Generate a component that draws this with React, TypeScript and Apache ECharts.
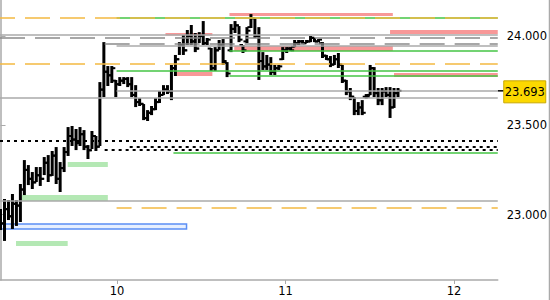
import React, { useEffect, useRef } from 'react';
import * as echarts from 'echarts';

// ---- OHLC bars (price) ----
const highs = [
  23.031, 23.087, 23.081, 23.115, 23.081, 23.171, 23.305, 23.277, 23.238, 23.266,
  23.266, 23.322, 23.333, 23.356, 23.378, 23.294, 23.378, 23.490, 23.496, 23.479,
  23.490, 23.473, 23.389, 23.468, 23.440, 23.742, 23.966, 23.832, 23.832, 23.754,
  23.770, 23.770, 23.770, 23.770, 23.725, 23.653, 23.619, 23.585, 23.608, 23.653,
  23.692, 23.725, 23.725, 23.838, 23.894, 23.966, 24.006, 24.034, 24.062, 24.017,
  24.022, 24.084, 23.989, 23.933, 23.938, 23.978, 23.983, 23.854, 24.067, 24.084,
  24.056, 23.950, 24.050, 24.123, 24.101, 24.050, 23.910, 23.894, 23.882, 23.838,
  23.838, 23.938, 23.938, 23.938, 23.978, 23.978, 23.978, 23.978, 24.000, 23.989,
  23.983, 23.966, 23.894, 23.888, 23.894, 23.905, 23.838, 23.754, 23.709, 23.658,
  23.630, 23.641, 23.675, 23.838, 23.826, 23.709, 23.709, 23.714, 23.714, 23.709,
  23.709,
];
const lows = [
  22.913, 22.852, 22.969, 22.919, 22.936, 22.958, 23.109, 23.165, 23.143, 23.182,
  23.160, 23.221, 23.182, 23.216, 23.171, 23.126, 23.238, 23.328, 23.384, 23.361,
  23.384, 23.361, 23.311, 23.367, 23.356, 23.384, 23.658, 23.720, 23.737, 23.658,
  23.720, 23.731, 23.714, 23.658, 23.602, 23.608, 23.529, 23.524, 23.557, 23.585,
  23.625, 23.669, 23.675, 23.641, 23.776, 23.894, 23.894, 23.950, 23.950, 23.910,
  23.961, 23.950, 23.950, 23.804, 23.804, 23.922, 23.838, 23.770, 23.910, 24.017,
  23.966, 23.905, 23.961, 24.045, 23.989, 23.754, 23.810, 23.810, 23.782, 23.782,
  23.810, 23.866, 23.905, 23.916, 23.938, 23.950, 23.955, 23.961, 23.966, 23.966,
  23.966, 23.877, 23.866, 23.826, 23.838, 23.821, 23.737, 23.669, 23.641, 23.557,
  23.557, 23.557, 23.650, 23.669, 23.658, 23.613, 23.613, 23.658, 23.541, 23.597,
  23.658,
];
const opens = [
  22.990, 22.950, 23.030, 22.990, 23.060, 23.050, 23.140, 23.250, 23.200, 23.180,
  23.220, 23.200, 23.290, 23.220, 23.330, 23.200, 23.260, 23.350, 23.440, 23.420,
  23.400, 23.450, 23.380, 23.360, 23.440, 23.380, 23.700, 23.800, 23.780, 23.750,
  23.730, 23.750, 23.760, 23.730, 23.670, 23.630, 23.620, 23.540, 23.570, 23.590,
  23.630, 23.670, 23.700, 23.690, 23.820, 23.870, 23.950, 23.920, 24.000, 23.970,
  23.930, 24.000, 23.960, 23.930, 23.820, 23.920, 23.950, 23.850, 23.920, 24.040,
  24.060, 23.950, 23.970, 24.050, 24.100, 24.000, 23.860, 23.830, 23.840, 23.800,
  23.820, 23.870, 23.920, 23.930, 23.940, 23.960, 23.970, 23.960, 23.970, 23.990,
  23.970, 23.960, 23.890, 23.870, 23.840, 23.870, 23.840, 23.750, 23.690, 23.660,
  23.580, 23.600, 23.660, 23.670, 23.820, 23.680, 23.640, 23.690, 23.670, 23.600,
  23.680,
];
const closes = [
  22.950, 23.030, 22.990, 23.060, 23.050, 23.140, 23.250, 23.200, 23.180, 23.220,
  23.200, 23.290, 23.220, 23.330, 23.200, 23.260, 23.350, 23.440, 23.420, 23.400,
  23.450, 23.380, 23.360, 23.440, 23.380, 23.700, 23.800, 23.780, 23.820, 23.730,
  23.750, 23.760, 23.730, 23.670, 23.630, 23.620, 23.540, 23.570, 23.590, 23.630,
  23.670, 23.700, 23.690, 23.820, 23.870, 23.950, 23.920, 24.000, 23.970, 23.930,
  24.000, 23.960, 23.980, 23.820, 23.920, 23.950, 23.860, 23.790, 24.040, 24.060,
  23.980, 23.920, 24.030, 24.100, 24.000, 23.860, 23.830, 23.840, 23.800, 23.820,
  23.830, 23.920, 23.930, 23.920, 23.960, 23.970, 23.960, 23.970, 23.990, 23.970,
  23.980, 23.890, 23.870, 23.840, 23.870, 23.840, 23.750, 23.690, 23.660, 23.580,
  23.600, 23.570, 23.660, 23.820, 23.680, 23.640, 23.690, 23.670, 23.600, 23.680,
  23.693,
];

// ---- axes ----
const X_MIN = -0.13;
const X_MAX = 125.1;
const Y_MIN = 22.633;
const Y_MAX = 24.202;
const xTickValues = [29.3, 71.7, 114.1];
const xTickLabels = ['10', '11', '12'];
const yTickValues = [23, 23.5, 24];
const lastPrice = 23.693;

// ---- horizontal levels (null start = left edge of plot) ----
const levelValues = [24.105, 24.105, 24.010, 23.993, 23.955, 23.947, 23.916, 23.843, 23.803, 23.780, 23.693, 23.657, 23.412, 23.381, 23.364, 23.348, 23.076, 23.040];
const levelStarts = [29.2, null, null, null, 26.2, 29.2, 57.6, null, 29.2, 57.6, 29.2, null, null, 32.5, 26.2, 43.5, null, 29.2];
const levelKinds = ['green', 'orange', 'gray', 'grayDash', 'grayDash', 'gray', 'green', 'orange', 'green', 'green', 'gray', 'gray', 'dots', 'dots', 'dots', 'green', 'gray', 'orange'];

// ---- zones ----
const zoneLows = [24.112, 24.011, 24.003, 23.916, 23.776, 23.770, 23.266, 23.076, 22.824, 22.919];
const zoneHighs = [24.129, 24.034, 24.017, 23.944, 23.798, 23.793, 23.294, 23.109, 22.852, 22.947];
const zoneStarts = [57.6, 98.0, 41.5, 58.8, 44.0, 99.0, 16.9, 5.4, 3.9, null];
const zoneEnds = [98.7, null, 53.3, 98.7, 53.3, null, 27.0, 27.0, 16.9, 46.8];
const zoneKinds = ['red', 'red', 'red', 'red', 'red', 'red', 'green', 'green', 'green', 'blue'];

const FONT = 'DejaVu Sans';

export default function App() {
  const ref = useRef<HTMLDivElement>(null);

  useEffect(() => {
    const chart = echarts.init(ref.current as HTMLDivElement, null, { renderer: 'svg' });

    const candleData = highs.map((h, i) => [i, opens[i], closes[i], lows[i], h]);

    const lineStyles: Record<string, any> = {
      green: { color: '#44c444', width: 1.5, type: 'solid' },
      orange: { color: '#f4b942', width: 1.5, type: [25, 10], dashOffset: 10 },
      gray: { color: '#aaaaaa', width: 1.5, type: 'solid' },
      grayDash: { color: '#8a8a8a', width: 1.5, type: [25, 10], dashOffset: 0 },
      dots: { color: '#000000', width: 2, type: [3, 4], dashOffset: 0 },
    };
    const zoneStyles: Record<string, any> = {
      red: { color: '#f89898' },
      green: { color: '#b4e8b4' },
      blue: { color: '#e6efff', borderColor: '#5b8ef5', borderWidth: 1.5 },
    };

    const markLineData = levelValues.map((v, k) => [
      { coord: [levelStarts[k] ?? X_MIN, v], lineStyle: lineStyles[levelKinds[k]] },
      { coord: [X_MAX, v] },
    ]);
    const markAreaData = zoneLows.map((lo, k) => [
      { coord: [zoneStarts[k] ?? X_MIN, zoneHighs[k]], itemStyle: zoneStyles[zoneKinds[k]] },
      { coord: [zoneEnds[k] ?? X_MAX, lo] },
    ]);

    chart.setOption({
      animation: false,
      grid: { left: 0, top: 0, right: 51, bottom: 20, containLabel: false },
      xAxis: {
        type: 'value',
        min: X_MIN,
        max: X_MAX,
        splitLine: { show: false },
        axisLine: { show: true, lineStyle: { color: '#aaaaaa', width: 1.5 } },
        axisTick: { show: true, length: 4, lineStyle: { color: '#aaaaaa' }, customValues: xTickValues },
        axisLabel: {
          customValues: xTickValues,
          formatter: (val: number) => {
            const k = xTickValues.findIndex((t) => Math.abs(t - val) < 1e-6);
            return k >= 0 ? xTickLabels[k] : '';
          },
          color: '#000000',
          fontFamily: FONT,
          fontSize: 11.5,
          margin: 5,
        },
      },
      yAxis: {
        type: 'value',
        position: 'right',
        min: Y_MIN,
        max: Y_MAX,
        splitLine: { show: false },
        axisLine: { show: true, lineStyle: { color: '#aaaaaa', width: 1.5 } },
        axisTick: { show: true, length: 5, lineStyle: { color: '#aaaaaa' }, customValues: yTickValues },
        axisLabel: {
          customValues: yTickValues,
          formatter: (val: number) => val.toFixed(3),
          color: '#000000',
          fontFamily: FONT,
          fontSize: 11.5,
          margin: 9,
        },
      },
      series: [
        {
          type: 'line',
          data: [],
          silent: true,
          z: 1,
          markArea: { silent: true, data: markAreaData, label: { show: false } },
        },
        {
          type: 'line',
          data: [],
          silent: true,
          z: 2,
          markLine: {
            silent: true,
            symbol: ['none', 'none'],
            label: { show: false },
            emphasis: { disabled: true },
            data: markLineData,
          },
        },
        {
          type: 'custom',
          z: 3,
          silent: true,
          data: candleData,
          encode: { x: 0, y: [1, 2, 3, 4] },
          renderItem: (params: any, api: any) => {
            const i = api.value(0);
            const pO = api.coord([i, api.value(1)]);
            const pC = api.coord([i, api.value(2)]);
            const pL = api.coord([i, api.value(3)]);
            const pH = api.coord([i, api.value(4)]);
            return {
              type: 'group',
              children: [
                { type: 'line', shape: { x1: pH[0], y1: pH[1], x2: pL[0], y2: pL[1] }, style: { stroke: '#000', lineWidth: 3 } },
                { type: 'line', shape: { x1: pO[0] - 3.5, y1: pO[1], x2: pO[0], y2: pO[1] }, style: { stroke: '#000', lineWidth: 2 } },
                { type: 'line', shape: { x1: pC[0], y1: pC[1], x2: pC[0] + 3.5, y2: pC[1] }, style: { stroke: '#000', lineWidth: 2 } },
              ],
            };
          },
        },
      ],
    });

    const py = chart.convertToPixel({ yAxisIndex: 0 }, lastPrice) as number;
    const gx = chart.convertToPixel({ xAxisIndex: 0 }, X_MAX) as number;
    chart.setOption({
      graphic: [
        { type: 'line', silent: true, shape: { x1: 549.5, y1: 0, x2: 549.5, y2: 300 }, style: { stroke: '#aaaaaa', lineWidth: 1.5 } },
        { type: 'line', silent: true, shape: { x1: gx, y1: py, x2: gx + 6, y2: py }, style: { stroke: '#000000', lineWidth: 1.5 } },
        { type: 'rect', silent: true, shape: { x: gx + 6, y: py - 10, width: 42, height: 22 }, style: { fill: '#fcd800', stroke: '#c8a800', lineWidth: 1 } },
        { type: 'text', silent: true, x: gx + 27, y: py + 1, style: { text: lastPrice.toFixed(3), fill: '#000000', font: `11.5px "${FONT}"`, align: 'center', verticalAlign: 'middle' } },
      ],
    });

    return () => chart.dispose();
  }, []);

  return <div ref={ref} style={{ position: 'fixed', left: 0, top: 0, width: 550, height: 300, background: '#ffffff' }} />;
}
